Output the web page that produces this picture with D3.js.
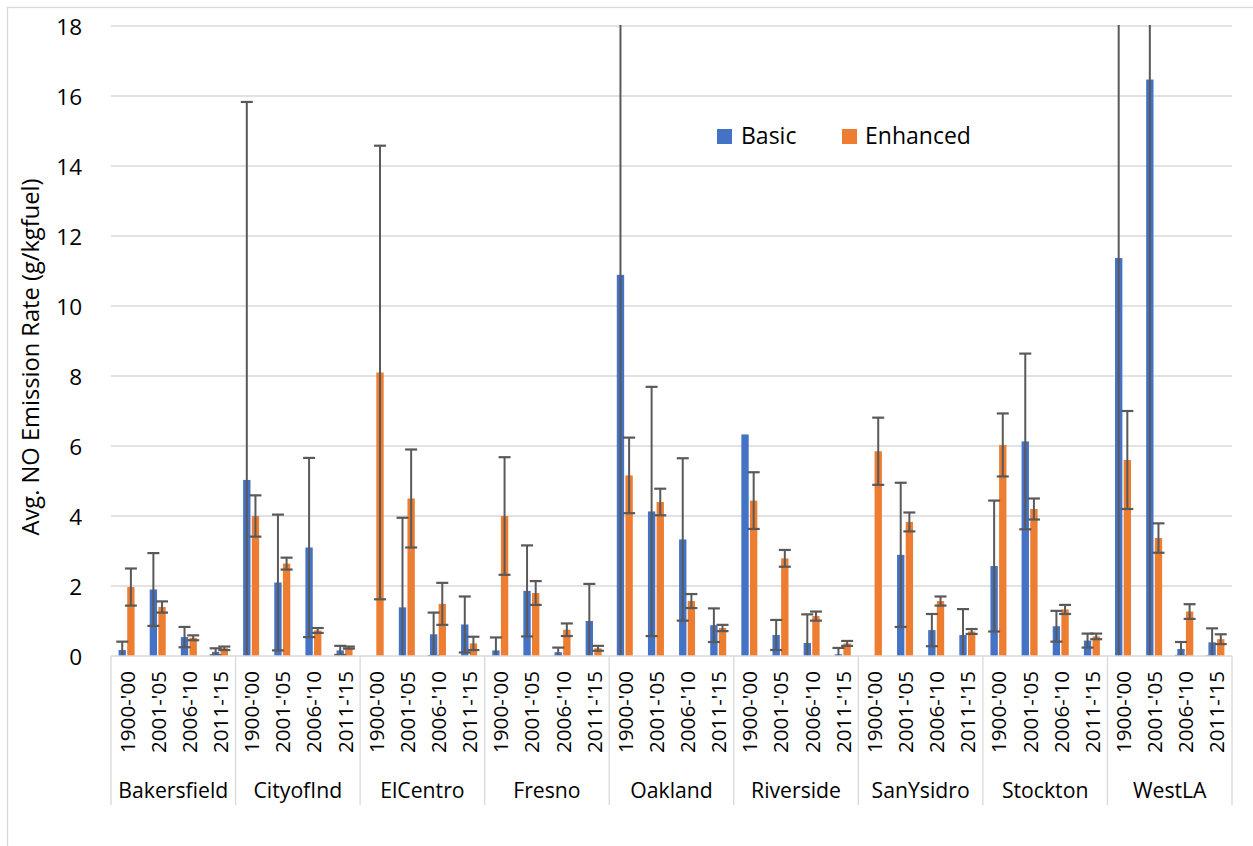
<!DOCTYPE html>
<html>
<head>
<meta charset="utf-8">
<script src="https://cdn.jsdelivr.net/npm/d3@7"></script>
<style>
  html, body { margin: 0; padding: 0; background: #ffffff; }
  svg { display: block; }
  text { font-family: "Open Sans", "Noto Sans", sans-serif; fill: #000; }
</style>
</head>
<body>
<svg id="chart" width="1253" height="846"></svg>
<script>
const sites = ["Bakersfield","CityofInd","ElCentro","Fresno","Oakland","Riverside","SanYsidro","Stockton","WestLA"];
const periods = ["1900-'00","2001-'05","2006-'10","2011-'15"];
const seriesNames = ["Basic","Enhanced"];
const yTicks = [0,2,4,6,8,10,12,14,16,18];

// values per site, 4 periods each
const basic = [
  [0.17, 1.90, 0.54, 0.12],
  [5.03, 2.10, 3.10, 0.16],
  [null, 1.39, 0.62, 0.90],
  [0.16, 1.86, 0.11, 1.00],
  [10.89, 4.13, 3.33, 0.88],
  [6.33, 0.60, 0.37, 0.05],
  [null, 2.89, 0.74, 0.60],
  [2.57, 6.13, 0.85, 0.44],
  [11.37, 16.47, 0.20, 0.39]
];
const basicErr = [
  [0.24, 1.04, 0.29, 0.10],
  [10.80, 1.94, 2.56, 0.13],
  [null, 2.56, 0.62, 0.80],
  [0.37, 1.30, 0.13, 1.06],
  [11.00, 3.56, 2.32, 0.48],
  [null, 0.43, 0.82, 0.18],
  [null, 2.06, 0.46, 0.74],
  [1.87, 2.51, 0.44, 0.20],
  [11.60, 16.60, 0.20, 0.40]
];
const enhanced = [
  [1.97, 1.40, 0.52, 0.22],
  [4.00, 2.64, 0.73, 0.24],
  [8.10, 4.50, 1.49, 0.36],
  [4.00, 1.80, 0.75, 0.22],
  [5.16, 4.40, 1.57, 0.80],
  [4.44, 2.79, 1.14, 0.36],
  [5.85, 3.83, 1.57, 0.70],
  [6.03, 4.20, 1.33, 0.56],
  [5.60, 3.37, 1.27, 0.48]
];
const enhancedErr = [
  [0.53, 0.16, 0.07, 0.05],
  [0.59, 0.17, 0.07, 0.03],
  [6.48, 1.40, 0.60, 0.19],
  [1.68, 0.34, 0.18, 0.07],
  [1.08, 0.38, 0.20, 0.09],
  [0.81, 0.24, 0.13, 0.07],
  [0.96, 0.27, 0.13, 0.07],
  [0.90, 0.30, 0.13, 0.08],
  [1.40, 0.42, 0.21, 0.14]
];

const colors = {Basic: "#4472C4", Enhanced: "#ED7D31"};
const errColor = "#595959";
const gridColor = "#d9d9d9";

const svg = d3.select("#chart");
const L = 111, R = 1232, T = 26, B = 656;

// frame
svg.append("rect").attr("x", 7.5).attr("y", 7.5).attr("width", 1300).attr("height", 900)
  .attr("fill", "none").attr("stroke", gridColor).attr("stroke-width", 1.3);

const y = d3.scaleLinear().domain([0, 18]).range([B, T]);
const xSite = d3.scaleBand().domain(sites).range([L, R]).padding(0);
const xPeriod = d3.scaleBand().domain(periods).range([0, xSite.bandwidth()]).padding(0);
const pc = xPeriod.bandwidth() / 2;
const xSeries = d3.scaleBand().domain(seriesNames).range([pc - 8, pc + 8]).paddingInner(0.15).paddingOuter(0);

function fitText(sel, target, base) {
  sel.style("font-size", base + "px");
  const w = sel.node().getComputedTextLength();
  sel.style("font-size", (base * target / w).toFixed(2) + "px");
}

// gridlines
svg.append("g").selectAll("line").data(yTicks.filter(d => d > 0)).join("line")
  .attr("x1", L).attr("x2", R).attr("y1", d => y(d)).attr("y2", d => y(d))
  .attr("stroke", gridColor).attr("stroke-width", 1.3);

// y tick labels
svg.append("g").selectAll("text").data(yTicks).join("text")
  .attr("x", 82).attr("y", d => y(d)).attr("text-anchor", "end")
  .attr("dominant-baseline", "central").style("font-size", "22.5px")
  .text(d => d);

// axis title
const title = svg.append("text")
  .attr("transform", "translate(30,357) rotate(-90)")
  .attr("text-anchor", "middle").attr("dominant-baseline", "central")
  .text("Avg. NO Emission Rate (g/kgfuel)");
fitText(title, 357, 20);

// data records
const recs = [];
sites.forEach((s, i) => {
  periods.forEach((p, j) => {
    recs.push({site: s, period: p, series: "Basic", v: basic[i][j], e: basicErr[i][j]});
    recs.push({site: s, period: p, series: "Enhanced", v: enhanced[i][j], e: enhancedErr[i][j]});
  });
});
const xOf = d => xSite(d.site) + xPeriod(d.period) + xSeries(d.series);

// clip
svg.append("defs").append("clipPath").attr("id", "plotclip")
  .append("rect").attr("x", L).attr("y", T - 1).attr("width", R - L).attr("height", B - T + 1);

const plot = svg.append("g").attr("clip-path", "url(#plotclip)");
plot.selectAll("rect.bar").data(recs.filter(d => d.v != null)).join("rect")
  .attr("class", "bar")
  .attr("x", xOf).attr("width", xSeries.bandwidth())
  .attr("y", d => y(d.v)).attr("height", d => y(0) - y(d.v))
  .attr("fill", d => colors[d.series]);

// error bars
const eb = plot.selectAll("g.err").data(recs.filter(d => d.v != null && d.e != null)).join("g").attr("class", "err");
const cx = d => xOf(d) + xSeries.bandwidth() / 2;
eb.append("line").attr("x1", cx).attr("x2", cx)
  .attr("y1", d => y(d.v + d.e)).attr("y2", d => y(d.v - d.e))
  .attr("stroke", errColor).attr("stroke-width", 2);
eb.append("line").attr("x1", d => cx(d) - 6).attr("x2", d => cx(d) + 6)
  .attr("y1", d => y(d.v + d.e)).attr("y2", d => y(d.v + d.e))
  .attr("stroke", errColor).attr("stroke-width", 2.2);
eb.append("line").attr("x1", d => cx(d) - 6).attr("x2", d => cx(d) + 6)
  .attr("y1", d => y(d.v - d.e)).attr("y2", d => y(d.v - d.e))
  .attr("stroke", errColor).attr("stroke-width", 2.2);

// baseline
svg.append("line").attr("x1", L).attr("x2", R).attr("y1", B).attr("y2", B)
  .attr("stroke", gridColor).attr("stroke-width", 1.3);

// category separators
const bounds = sites.map(s => xSite(s)).concat([R]);
svg.append("g").selectAll("line").data(bounds).join("line")
  .attr("x1", d => d).attr("x2", d => d).attr("y1", B).attr("y2", 805)
  .attr("stroke", gridColor).attr("stroke-width", 1.3);

// period labels
const plabels = [];
sites.forEach(s => periods.forEach(p => plabels.push({site: s, period: p})));
const pl = svg.append("g").selectAll("text").data(plabels).join("text")
  .attr("transform", d => `translate(${xSite(d.site) + xPeriod(d.period) + pc},671) rotate(-90)`)
  .attr("text-anchor", "end").attr("dominant-baseline", "central")
  .text(d => d.period);
{
  const n = pl.node();
  d3.select(n).style("font-size", "20px");
  const w = n.getComputedTextLength();
  pl.style("font-size", (20 * 82 / w).toFixed(2) + "px");
}

// site labels
const sl = svg.append("g").selectAll("text").data(sites).join("text")
  .attr("x", d => xSite(d) + xSite.bandwidth() / 2).attr("y", 789)
  .attr("text-anchor", "middle").attr("dominant-baseline", "central")
  .text(d => d);
{
  const n = sl.node();
  d3.select(n).style("font-size", "20px");
  const w = n.getComputedTextLength();
  sl.style("font-size", (20 * 110 / w).toFixed(2) + "px");
}

// legend
const leg = svg.append("g");
const legPos = [{name: "Basic", sx: 717, tx: 741}, {name: "Enhanced", sx: 842, tx: 865}];
legPos.forEach(d => {
  leg.append("rect").attr("x", d.sx).attr("y", 129).attr("width", 15).attr("height", 15).attr("fill", colors[d.name]);
  leg.append("text").attr("x", d.tx).attr("y", 144).style("font-size", "23px").text(d.name);
});
</script>
</body>
</html>
